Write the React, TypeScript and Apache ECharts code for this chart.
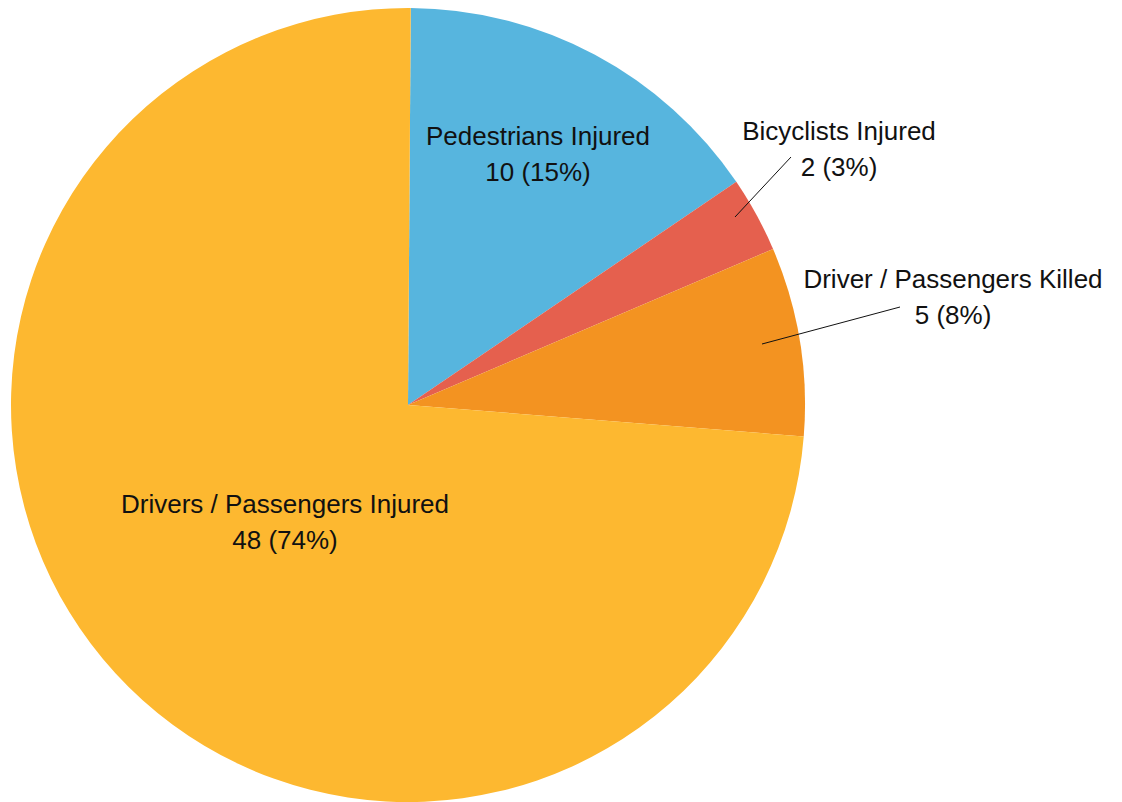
import React, { useEffect, useRef } from "react";
import * as echarts from "echarts";

const categories = [
  "Pedestrians Injured",
  "Bicyclists Injured",
  "Driver / Passengers Killed",
  "Drivers / Passengers Injured",
];
const values = [10, 2, 5, 48];
const colors = ["#57B5DE", "#E5604E", "#F39321", "#FDB830"];

// label centres and leader lines (layout only)
const labelPos: [number, number][] = [
  [538, 154],
  [839, 149],
  [953, 297],
  [285, 522],
];
const leaderLines: [number, number, number, number][] = [
  [735, 217, 791, 157],
  [762, 344, 900, 307],
];

export default function App() {
  const ref = useRef<HTMLDivElement>(null);
  useEffect(() => {
    document.body.style.margin = "0";
    const chart = echarts.init(ref.current!, null, { renderer: "svg" });
    chart.setOption({
      animation: false,
      backgroundColor: "#ffffff",
      graphic: leaderLines.map((l) => ({
        type: "line",
        z: 100,
        shape: { x1: l[0], y1: l[1], x2: l[2], y2: l[3] },
        style: { stroke: "#111111", lineWidth: 1 },
      })),
      series: [
        {
          type: "pie",
          center: [408, 405],
          radius: [0, 397],
          startAngle: 89.6,
          clockwise: true,
          percentPrecision: 0,
          data: categories.map((name, i) => ({
            name,
            value: values[i],
            itemStyle: { color: colors[i] },
          })),
          label: {
            show: true,
            position: "outside",
            formatter: "{b}\n{c} ({d}%)",
            fontFamily: "Liberation Sans",
            fontSize: 26,
            lineHeight: 36,
            color: "#111111",
            align: "center",
            overflow: "none",
            width: 400,
          },
          labelLine: { show: false },
          labelLayout: (params: any) => {
            const p = labelPos[params.dataIndex];
            return {
              x: p[0],
              y: p[1],
              align: "center",
              verticalAlign: "middle",
            };
          },
        },
      ],
    });
    return () => chart.dispose();
  }, []);
  return <div ref={ref} style={{ width: 1122, height: 802 }} />;
}
